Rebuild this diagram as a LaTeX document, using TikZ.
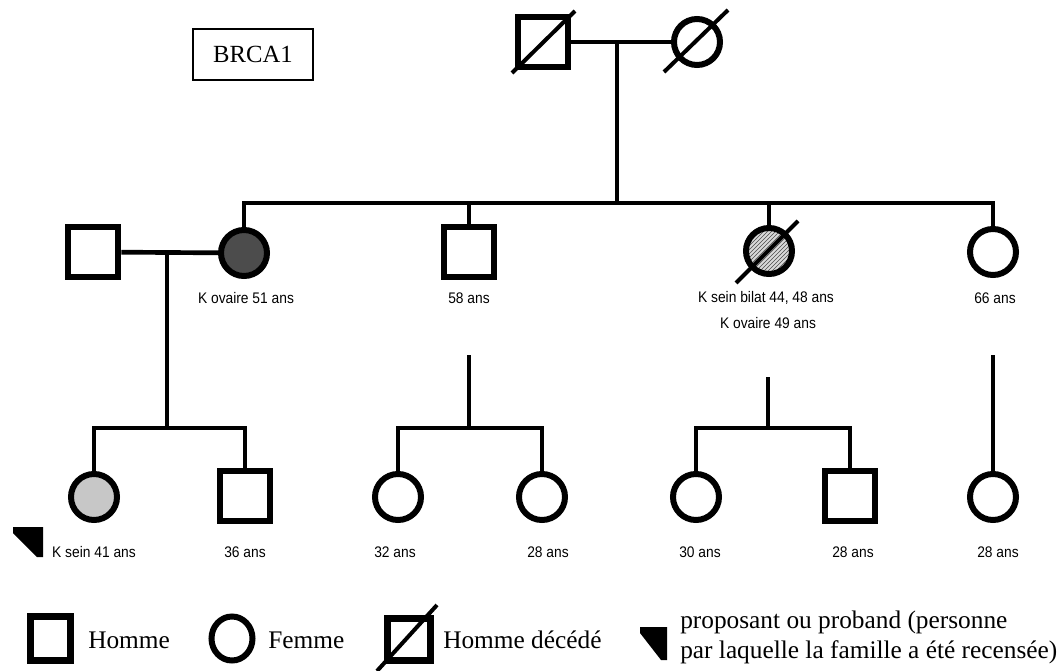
\documentclass[tikz,border=0pt]{standalone}
\usepackage{fontspec}
\setmainfont{Liberation Serif}
\setsansfont{Liberation Sans}
\usetikzlibrary{patterns,shapes,calc}

\begin{document}
\begin{tikzpicture}[x=0.75pt,y=-0.75pt,
    conn/.style={line width=3.5pt},
    homme/.style={draw,rectangle,line width=5pt,minimum size=37.5pt,inner sep=0pt},
    femme/.style={draw,circle,line width=4.5pt,minimum size=34.5pt,inner sep=0pt},
    barre/.style={line width=3pt},
    age/.style={font=\sffamily\fontsize{11.5}{13}\selectfont,xscale=0.9,inner sep=0pt},
    legende/.style={font=\fontsize{19}{21}\selectfont,anchor=west,inner sep=0pt}]
    \useasboundingbox (0,0) rectangle (1064,671);

    \node[draw,line width=1.2pt,minimum width=90pt,minimum height=38pt,
          font=\fontsize{18.5}{20}\selectfont] (gene) at (253,54.5) {BRCA1};

    % generation 1
    \node[homme] (gp) at (543,42) {};
    \node[femme] (gm) at (697,42) {};
    \draw[barre] ($(gp)+(-31,31)$) -- ($(gp)+(32,-31)$);
    \draw[barre] ($(gm)+(-33,30)$) -- ($(gm)+(31,-32)$);
    \coordinate (u1) at (617,42);
    \coordinate (f1) at (617,203);
    \draw[conn] (gp) -- (gm);
    \draw[conn] (u1) -- (f1);

    % generation 2
    \node[homme] (oncle) at (93,252) {};
    \node[femme,fill=black!70] (tante) at (244,253) {};
    \node[homme] (fils) at (469,252) {};
    \node[femme,preaction={fill=black!15},pattern=north east lines,
          pattern color=black!70] (mere) at (769,251) {};
    \node[femme] (fille) at (993,252) {};
    \draw[barre] ($(mere)+(-33,32)$) -- ($(mere)+(29,-30)$);

    \draw[conn] (tante.north) |- (f1) -| (fille.north);
    \draw[conn] (fils.north) -- (fils.north |- f1);
    \draw[conn] (mere.north) -- (mere.north |- f1);

    \node[age] (l1) at (246,298) {K ovaire 51 ans};
    \node[age] (l2) at (469,298) {58 ans};
    \node[age] (l3) at (766,298) {K sein bilat 44, 48 ans};
    \node[age] (l4) at (768,323) {K ovaire 49 ans};
    \node[age] (l5) at (995,298) {66 ans};

    % generation 3
    \node[femme,fill=black!22] (p1) at (94,497) {};
    \node[homme] (p2) at (245,496) {};
    \node[femme] (p3) at (398,497) {};
    \node[femme] (p4) at (542,497) {};
    \node[femme] (p5) at (696,497) {};
    \node[homme] (p6) at (850,496) {};
    \node[femme] (p7) at (993,497) {};

    \coordinate (u2) at (167,252);
    \coordinate (f2) at (167,428);
    \draw[conn] (oncle) -- (tante);
    \draw[conn] (u2) -- (f2);
    \draw[conn] (p1.north) |- (f2) -| (p2.north);

    \coordinate (u3) at (469,355);
    \coordinate (f3) at (469,428);
    \draw[conn] (u3) -- (f3);
    \draw[conn] (p3.north) |- (f3) -| (p4.north);

    \coordinate (u4) at (768,377);
    \coordinate (f4) at (768,428);
    \draw[conn] (u4) -- (f4);
    \draw[conn] (p5.north) |- (f4) -| (p6.north);

    \coordinate (u5) at (993,355);
    \draw[conn] (u5) -- (p7.north);

    %proband
    \fill (13,527) -- (43,527) -- (43,557) -- (37,557) -- (13,533) -- cycle;

    \node[age] (m1) at (94,552) {K sein 41 ans};
    \node[age] (m2) at (245,552) {36 ans};
    \node[age] (m3) at (395,552) {32 ans};
    \node[age] (m4) at (548,552) {28 ans};
    \node[age] (m5) at (700,552) {30 ans};
    \node[age] (m6) at (853,552) {28 ans};
    \node[age] (m7) at (998,552) {28 ans};

    % legende
    \node[homme,minimum width=30pt,minimum height=33pt] (k1) at (50.5,638.5) {};
    \node[legende] (t1) at (88,640) {Homme};
    \node[draw,ellipse,line width=4.5pt,minimum width=30.75pt,minimum height=33pt,
          inner sep=0pt] (k2) at (232,638.5) {};
    \node[legende] (t2) at (268,640) {Femme};
    \node[homme,minimum width=32pt,minimum height=31.5pt] (k3) at (409,639.5) {};
    \draw[barre] (377,671) -- (437,605);
    \node[legende] (t3) at (443,640) {Homme décédé};
    \fill (640,627) -- (667,627) -- (667,660) -- (661,660) -- (640,633) -- cycle;
    \node[legende] (t4) at (680,622) {proposant ou proband (personne};
    \node[legende] (t5) at (680,652) {par laquelle la famille a été recensée)};
\end{tikzpicture}
\end{document}
